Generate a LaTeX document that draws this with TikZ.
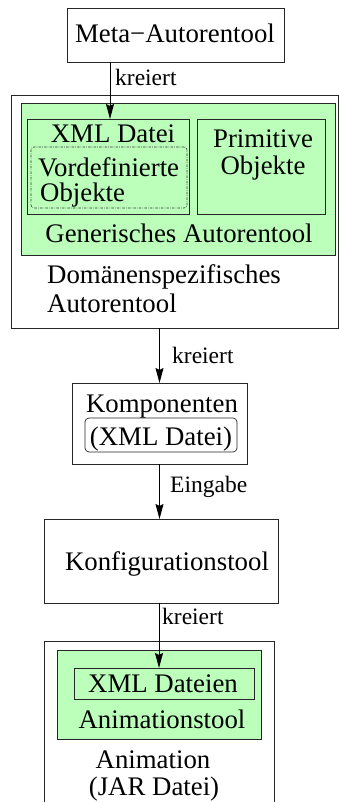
\documentclass[tikz,border=0pt]{standalone}
\usepackage{fontspec}
\setmainfont{Liberation Serif}
\usetikzlibrary{arrows.meta}
\definecolor{toolgreen}{RGB}{187,255,187}
\tikzset{
  box/.style={draw=black!85, line width=0.9pt, inner sep=0pt, outer sep=0pt},
  greenbox/.style={box, fill=toolgreen},
  txt/.style={inner sep=0pt, font=\fontsize{26.8}{30}\selectfont},
  lbl/.style={inner sep=0pt, font=\fontsize{23.5}{26}\selectfont},
  arr/.style={draw=black, line width=0.9pt, -{Stealth[length=15pt,width=8pt,inset=2pt]}}
}
\begin{document}
\begin{tikzpicture}[x=1pt, y=-1pt]
\clip (0,0) rectangle (339,802);
\fill[white] (0,0) rectangle (339,802);

% top: meta authoring tool
\node[box, minimum width=217pt, minimum height=54pt] (meta) at (175.5,35) {};
\node[txt, anchor=base] at (175,43) {Meta−Autorentool};

% domain specific authoring tool with its generic core
\node[box, minimum width=327pt, minimum height=233pt] (dom) at (174.5,211.5) {};
\node[greenbox, minimum width=314pt, minimum height=152pt] (gen) at (178,179) {};
\node[box, minimum width=162pt, minimum height=95pt] (xmlbox) at (108,166.5) {};
\node[box, minimum width=128pt, minimum height=95pt] (prim) at (261,166.5) {};
\node[draw=black!80, line width=0.6pt, rounded corners=3pt,
      dash pattern=on 2.5pt off 1.2pt on 0.6pt off 1.2pt,
      inner sep=0pt, minimum width=156pt, minimum height=61pt] (vord) at (109,177.5) {};
\node[txt, anchor=base] at (113,143) {XML Datei};
\node[txt, align=left, anchor=north west, font=\fontsize{26.8}{24.5}\selectfont]
  at (38,157.5) {Vordefinierte\\\hspace*{2pt}Objekte};
\node[txt, anchor=base] at (263,148) {Primitive};
\node[txt, anchor=base] at (263,175) {Objekte};
\node[txt, anchor=base] at (179,243) {Generisches Autorentool};
\node[txt, anchor=base west] at (47,283) {Domänenspezifisches};
\node[txt, anchor=base west] at (47,312) {Autorentool};

% components
\node[box, minimum width=175pt, minimum height=81pt] (komp) at (159.5,423.5) {};
\node[txt, anchor=base] at (162,412) {Komponenten};
\node[draw=black!85, line width=0.7pt, rounded corners=4pt, inner sep=0pt,
      minimum width=152pt, minimum height=34pt] (xmlk) at (161,435) {};
\node[txt, anchor=base] at (161,445) {(XML Datei)};

% configuration tool
\node[box, minimum width=234pt, minimum height=84pt] (konf) at (161,561) {};
\node[txt, anchor=base] at (167,570) {Konfigurationstool};

% animation (jar) with animation tool
\node[box, minimum width=230pt, minimum height=219pt] (anim) at (159,750.5) {};
\node[greenbox, minimum width=204pt, minimum height=89pt] (animtool) at (159,694.5) {};
\node[box, minimum width=180pt, minimum height=31pt] (xmld) at (164,683.5) {};
\node[txt, anchor=base] at (163,692) {XML Dateien};
\node[txt, anchor=base] at (162,728) {Animationstool};
\node[txt, anchor=base] at (153,768) {Animation};
\node[txt, anchor=base] at (154,795) {(JAR Datei)};

% connectors
\coordinate (a1) at (110,0);
\draw[arr] (meta.south -| a1) -- (xmlbox.north -| a1);
\node[lbl, anchor=base west] at (115,86) {kreiert};

\draw[arr] (dom.south -| komp.north) -- (komp.north);
\node[lbl, anchor=base west] at (172,363) {kreiert};

\draw[arr] (komp.south) -- (komp.south |- konf.north);
\node[lbl, anchor=base west] at (170,492) {Eingabe};

\draw[arr] (konf.south -| animtool.north) -- (xmld.north -| animtool.north);
\node[lbl, anchor=base west] at (162,624) {kreiert};
\end{tikzpicture}
\end{document}
